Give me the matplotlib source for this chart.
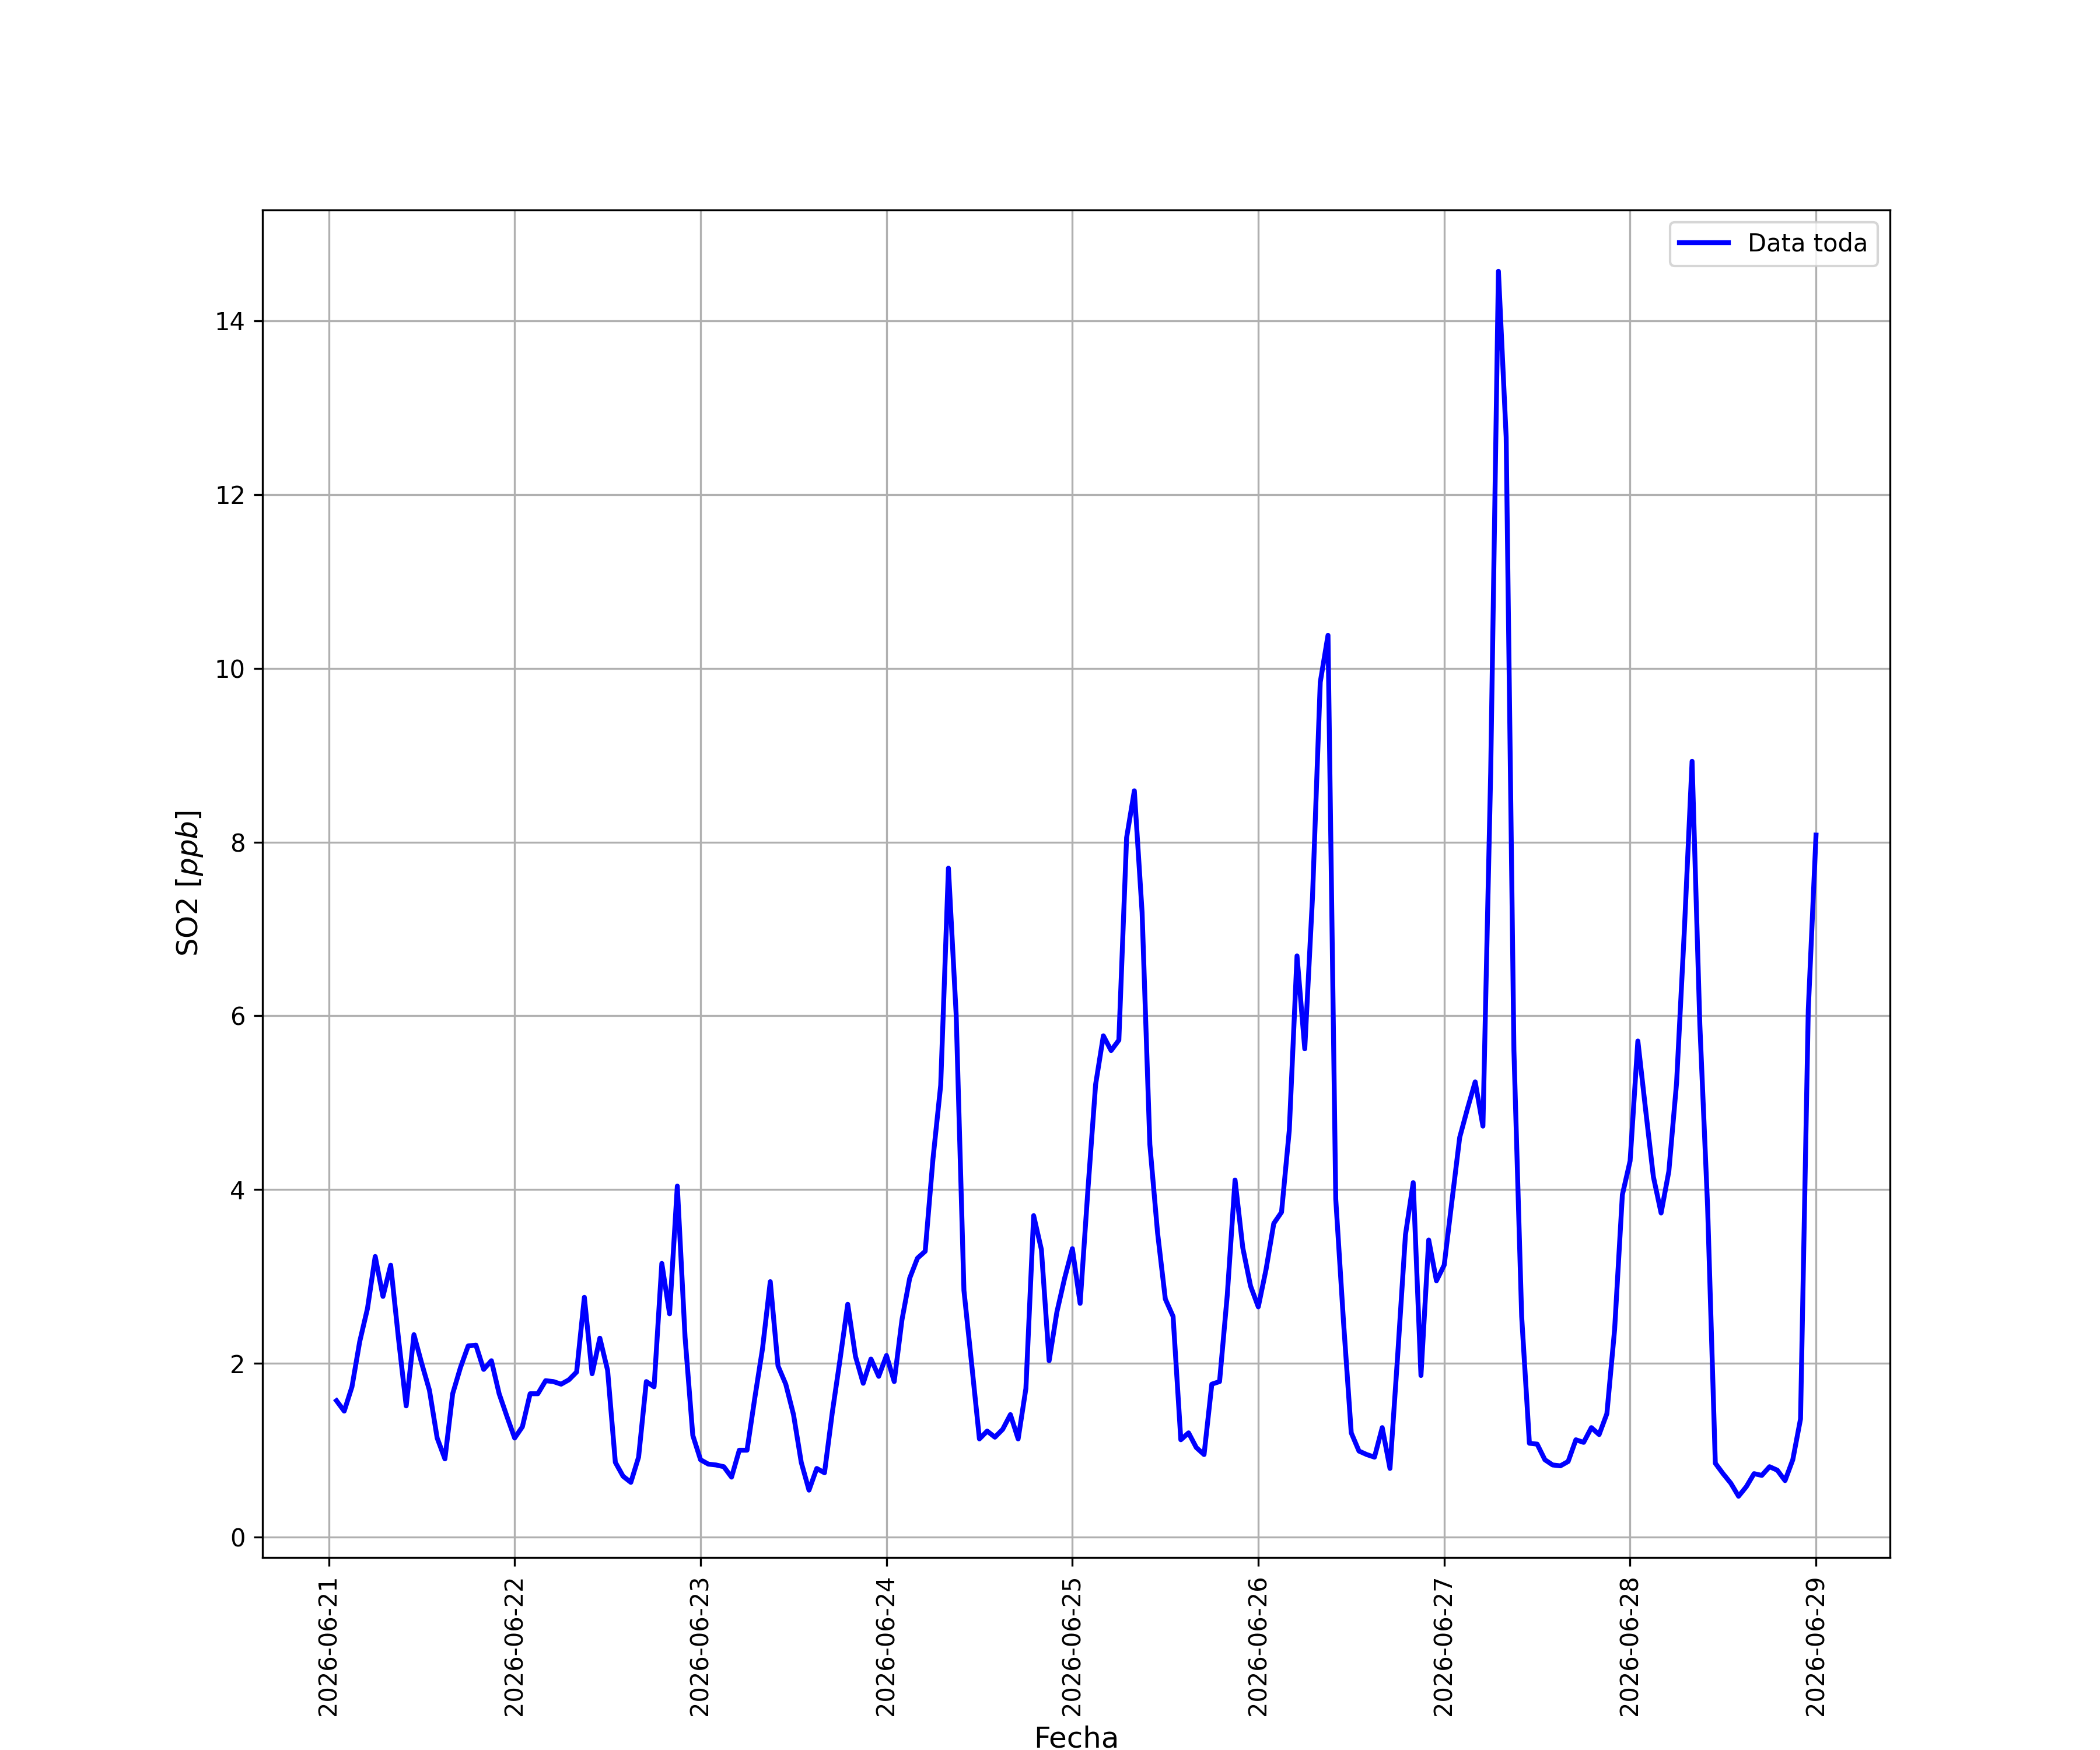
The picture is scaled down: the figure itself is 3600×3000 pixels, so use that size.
import numpy as np
import pandas as pd
import matplotlib
matplotlib.use("Agg")
import matplotlib.pyplot as plt

# SO2 hourly values, one list per day
# 21-jun starts at 01:00
so2_d21 = [1.57, 1.45, 1.73, 2.25, 2.63, 3.23, 2.77, 3.13, 2.29, 1.51, 2.33, 2.00,
           1.69, 1.14, 0.90, 1.65, 1.95, 2.20, 2.21, 1.93, 2.03, 1.65, 1.39]
so2_d22 = [1.14, 1.27, 1.65, 1.65, 1.80, 1.79, 1.76, 1.81, 1.90, 2.76, 1.88, 2.29,
           1.92, 0.86, 0.70, 0.63, 0.92, 1.79, 1.73, 3.15, 2.57, 4.04, 2.30, 1.17]
so2_d23 = [0.89, 0.84, 0.83, 0.81, 0.69, 1.00, 1.00, 1.60, 2.17, 2.94, 1.97, 1.76,
           1.41, 0.86, 0.54, 0.79, 0.74, 1.43, 2.04, 2.68, 2.08, 1.77, 2.05, 1.85]
so2_d24 = [2.09, 1.79, 2.50, 2.98, 3.21, 3.29, 4.35, 5.20, 7.70, 6.01, 2.84, 1.99,
           1.13, 1.22, 1.15, 1.24, 1.41, 1.13, 1.71, 3.70, 3.31, 2.03, 2.59, 2.98]
so2_d25 = [3.32, 2.69, 3.99, 5.21, 5.77, 5.60, 5.72, 8.05, 8.59, 7.19, 4.52, 3.50,
           2.74, 2.54, 1.12, 1.20, 1.03, 0.95, 1.76, 1.79, 2.79, 4.11, 3.33, 2.89]
so2_d26 = [2.65, 3.08, 3.61, 3.74, 4.68, 6.69, 5.62, 7.37, 9.84, 10.38, 3.89, 2.48,
           1.20, 0.99, 0.95, 0.92, 1.26, 0.79, 2.10, 3.48, 4.08, 1.86, 3.42, 2.95]
so2_d27 = [3.13, 3.87, 4.60, 4.93, 5.24, 4.73, 8.80, 14.57, 12.66, 5.60, 2.54, 1.08,
           1.07, 0.89, 0.83, 0.82, 0.87, 1.12, 1.09, 1.26, 1.18, 1.42, 2.39, 3.94]
so2_d28 = [4.33, 5.71, 4.92, 4.15, 3.73, 4.21, 5.23, 6.98, 8.93, 5.90, 3.81, 0.85,
           0.73, 0.62, 0.47, 0.58, 0.73, 0.71, 0.81, 0.77, 0.65, 0.89, 1.36, 6.07]
so2_d29 = [8.08]

so2 = np.array(so2_d21 + so2_d22 + so2_d23 + so2_d24 + so2_d25 +
               so2_d26 + so2_d27 + so2_d28 + so2_d29)
fechas = pd.date_range("2026-06-21 01:00", periods=len(so2), freq="h")

fig = plt.figure(figsize=(12, 10), dpi=300)
plt.plot(fechas, so2, color="blue", linewidth=2, label="Data toda")
plt.xlabel("Fecha", fontsize=12)
plt.ylabel("SO2 [$ppb$]", fontsize=12)
plt.xticks(rotation=90)
plt.grid()
plt.legend(loc="upper right")

plt.savefig("out.png", dpi=300)
